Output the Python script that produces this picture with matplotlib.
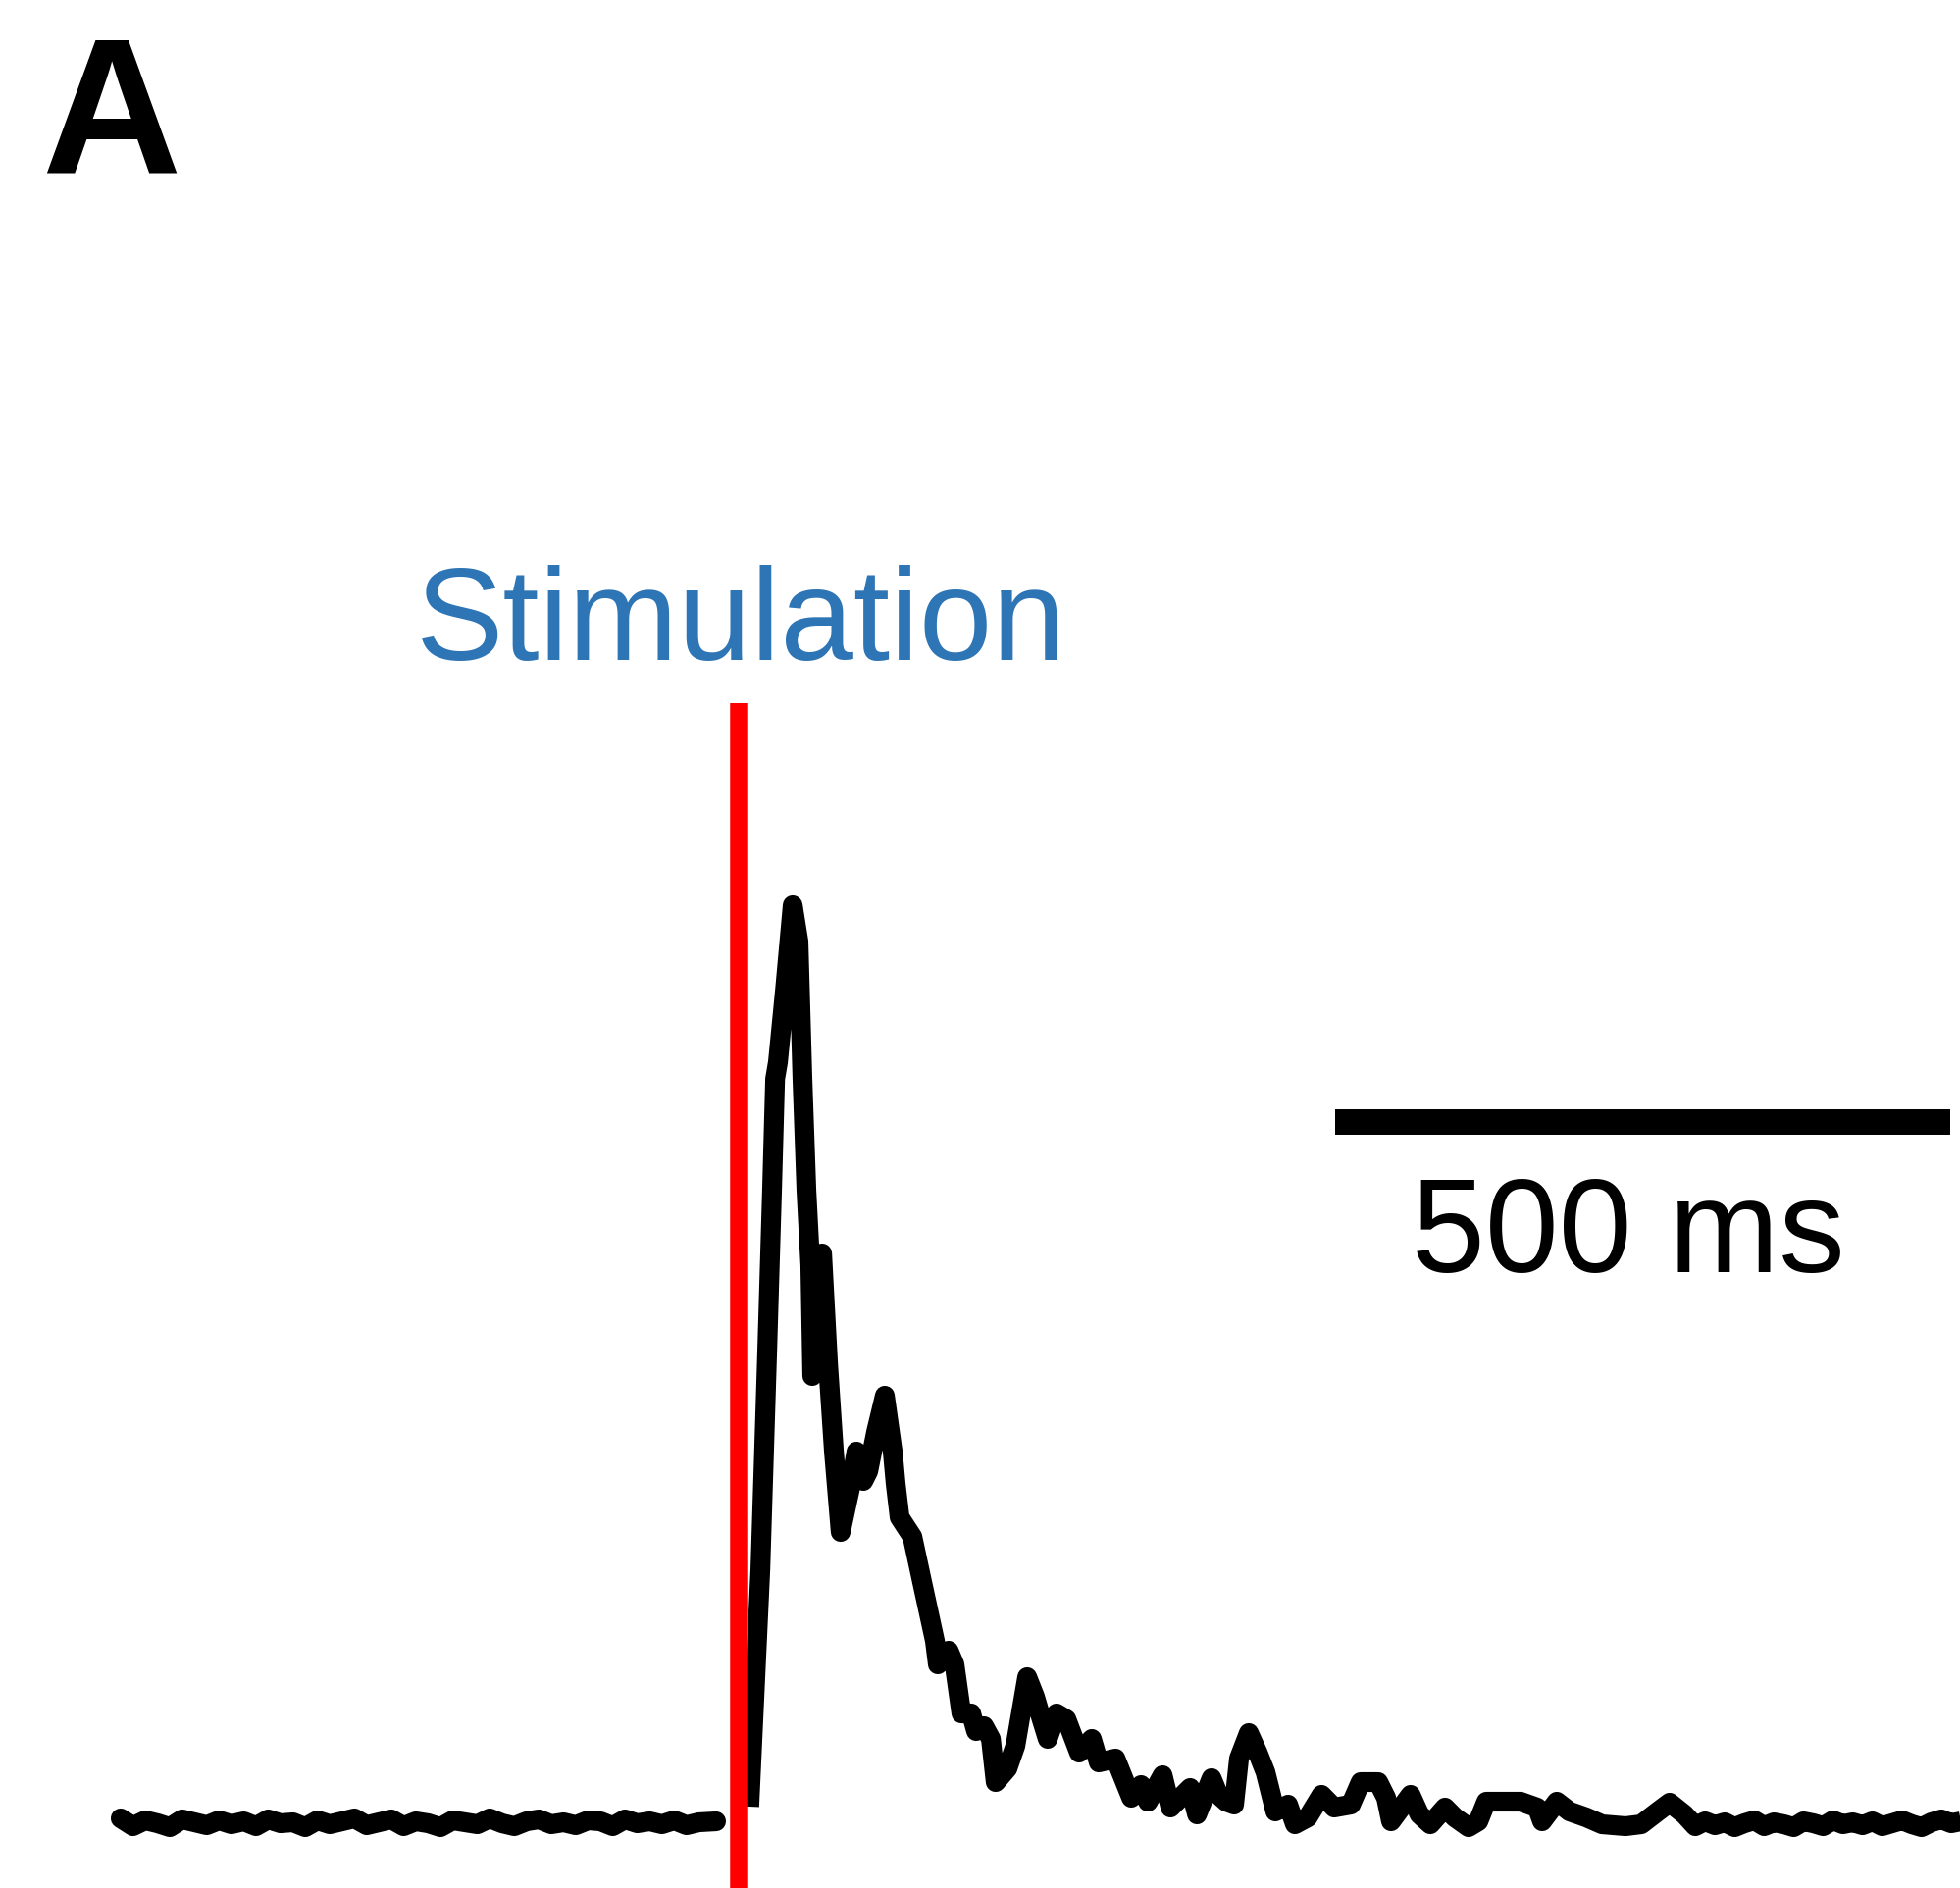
import numpy as np
import matplotlib
matplotlib.use("Agg")
import matplotlib.pyplot as plt

plt.rcParams['font.family'] = ['Liberation Sans', 'DejaVu Sans']

# Evoked response trace (time in ms relative to stimulation, amplitude in a.u.)
pre_time = [-502, -492, -482, -472, -462, -452, -442, -432, -422, -412,
            -402, -392, -382, -372, -362, -352, -342, -332, -322, -312,
            -302, -292, -282, -272, -262, -252, -242, -232, -222, -212,
            -202, -192, -182, -172, -162, -152, -142, -132, -122, -112,
            -102, -92, -82, -72, -62, -52, -42, -32, -18]
pre_amp = [0.6, -0.2, 0.4, 0.1, -0.3, 0.5, 0.2, -0.1, 0.4, 0.0,
           0.3, -0.2, 0.5, 0.1, 0.2, -0.3, 0.4, 0.0, 0.3, 0.6,
           -0.1, 0.2, 0.5, -0.2, 0.3, 0.1, -0.3, 0.4, 0.2, 0.0,
           0.6, 0.1, -0.2, 0.3, 0.5, 0.0, 0.2, -0.1, 0.4, 0.3,
           -0.2, 0.5, 0.1, 0.3, 0.0, 0.4, -0.1, 0.2, 0.3]

post_time = [9, 18, 23.5, 27.5, 30, 32.3, 38, 44.3, 49, 52.2,
             55.4, 58.6, 60.2, 68.2, 73, 77.8, 83.3, 90.5, 96.1, 101.7,
             105.7, 112.1, 119.2, 125.6, 128, 131.2, 141.6, 149.5, 159.9, 162.3,
             171.1, 175.8, 181.4, 189.4, 193.4, 199.8, 205.4, 209.3, 218.9, 225.3,
             234.9, 241.2, 245.2, 251.6, 258.8, 266.8, 277.1, 287.5, 293.1, 306.7,
             319.5, 327.5, 333.1, 345, 351.4, 367.4, 373, 384.8, 390.4, 396.7,
             403.1, 407.1, 415.1, 422.3, 428.6, 436.6, 447, 452.6, 463, 474.2,
             484.4, 498, 506, 520.3, 526.7, 530.7, 546.6, 553.8, 562.6, 574.6,
             582.5, 593.7, 601.7, 608.1, 622.4, 636, 649.5, 653.5, 665.5, 675.8,
             689.4, 702.2, 721.3, 734.1, 747.6, 757.2, 769.2,
             778, 786, 794, 802, 810, 818, 826, 834, 842, 850,
             858, 866, 874, 882, 890, 898, 906, 914, 922, 930,
             938, 946, 954, 962, 970, 978, 986, 994, 1002]
post_amp = [1.8, 26.0, 48.0, 64.7, 76.0, 77.7, 85.0, 93.7, 90.0, 76.0,
            64.7, 57.0, 45.7, 58.2, 47.0, 38.0, 29.8, 34.0, 38.0, 35.0,
            36.0, 40.0, 43.7, 38.0, 34.7, 31.3, 29.3, 24.7, 18.7, 16.3,
            17.7, 16.3, 11.3, 11.3, 9.5, 10.0, 8.7, 4.3, 5.7, 8.0,
            15.0, 13.0, 11.3, 8.7, 11.3, 10.7, 7.3, 8.7, 6.3, 6.7,
            2.7, 4.0, 2.3, 5.0, 1.7, 3.7, 1.0, 4.7, 3.0, 2.3,
            2.0, 6.7, 9.3, 7.3, 5.3, 1.3, 2.0, 0.0, 0.7, 3.0,
            1.7, 2.0, 4.3, 4.3, 2.7, 0.3, 3.0, 1.0, 0.0, 1.7,
            0.7, -0.3, 0.3, 2.3, 2.3, 2.3, 1.7, 0.3, 2.3, 1.3,
            0.7, 0.0, -0.2, 0.0, 1.3, 2.2, 1.0,
            -0.2, 0.3, -0.1, 0.2, -0.3, 0.1, 0.4, -0.2, 0.2, 0.0,
            -0.3, 0.3, 0.1, -0.2, 0.4, 0.0, 0.2, -0.1, 0.3, -0.2,
            0.1, 0.4, 0.0, -0.3, 0.2, 0.5, 0.1, 0.3, 0.2]

stim_time = 0
scale_bar_ms = 500
scale_bar_label = "500 ms"
stim_label = "Stimulation"
panel_label = "A"

fig = plt.figure(figsize=(19.98, 19.25), dpi=100)
ax = fig.add_axes([0, 0, 1, 1])
ax.set_xlim(-600.1, 993.2)
ax.set_ylim(-6.5, 186.0)
ax.axis('off')

# trace before and after the stimulus
trace_lw = 14.5
ax.plot(pre_time, pre_amp, color='black', lw=trace_lw,
        solid_capstyle='round', solid_joinstyle='round')
ax.plot(post_time, post_amp, color='black', lw=trace_lw,
        solid_capstyle='butt', solid_joinstyle='round')

# stimulation marker
ax.plot([stim_time, stim_time], [114.3, -10], color='#FF0000', lw=12.6,
        solid_capstyle='butt')
ax.text(stim_time + 2.4, 118.7, stim_label, color='#2E75B6', fontsize=96.5,
        ha='center', va='baseline')

# time scale bar
bar_start = 485.2
ax.plot([bar_start, bar_start + scale_bar_ms], [71.6, 71.6], color='black',
        lw=18.7, solid_capstyle='butt')
ax.text(bar_start + scale_bar_ms / 2 - 12, 56.3, scale_bar_label,
        color='black', fontsize=97, ha='center', va='baseline')

fig.text(42 / 1998, 1 - 177 / 1925, panel_label, fontsize=142,
         fontweight='bold', ha='left', va='baseline')

fig.savefig('out.png', dpi=100)
